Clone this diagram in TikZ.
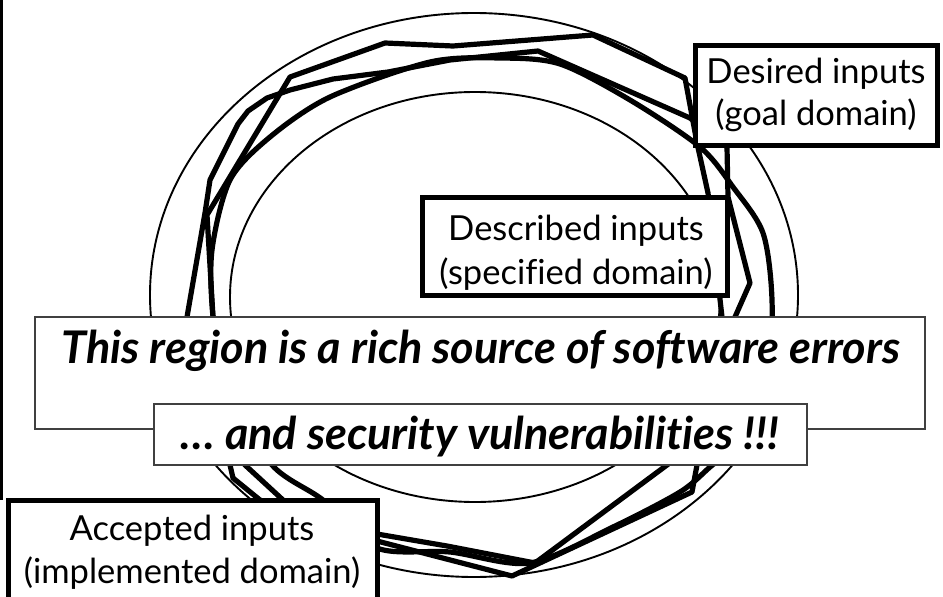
\documentclass[tikz,border=0pt]{standalone}
\usepackage{fontspec}
\setmainfont[Ligatures={NoCommon}]{Lato}
\begin{document}
\begin{tikzpicture}[x=1pt,y=-1pt,
  thinell/.style={line width=1.9pt},
  wavy/.style={line width=5.2pt, line join=round},
  thickbox/.style={draw, line width=5pt, fill=white, inner sep=0pt},
  thinbox/.style={draw=black!75, line width=1.3pt, fill=white, inner sep=0pt},
  lbl/.style={font=\fontsize{34.5}{40}\selectfont, anchor=base, inner sep=0pt},
  bigtxt/.style={font=\fontsize{45}{50}\selectfont\bfseries\itshape, anchor=base, inner sep=0pt}]
\useasboundingbox (0,0) rectangle (943,597);
% page edge line
\draw[line width=3pt] (1.5,0) -- (1.5,500);
% thin ellipses
\draw[thinell] (474,295) ellipse [x radius=324pt, y radius=282pt];
\draw[thinell] (475,297) ellipse [x radius=245pt, y radius=205pt];
% wavy polygon A
\draw[wavy] (593,35) -- (685,78) -- (697,143) -- (708,193) -- (722,317) -- (700,440) -- (667,465)
  -- (535,563) -- (447,546) -- (377,534) -- (300,520) -- (260,500) -- (233,478) -- (230,465)
  -- (215,400) -- (213,317) -- (207,215) -- (290,77) -- (385,43) -- (453,46) -- cycle;
% wavy polygon Q
\draw[wavy] (538,51) -- (690,118) -- (727,147) -- (728,197) -- (750,283) -- (735,317) -- (710,420)
  -- (697,465) -- (692,492) -- (512,576) -- (377,541) -- (310,525) -- (283,500) -- (245,465)
  -- (190,380) -- (187,317) -- (205,213) -- (210,180) -- (238,124) -- (248,111) -- (267,98)
  -- (290,90) -- (333,79) -- (388,72) -- (450,60) -- cycle;
% smooth curve R
\draw[wavy] plot[smooth cycle, tension=0.5] coordinates {(330,97) (430,62) (500,58) (560,64) (630,100)
  (700,147) (733,187) (763,233) (772,300) (768,380) (740,440) (710,467) (680,492) (613,527)
  (530,563) (450,552) (377,548) (323,500) (272,465) (225,390) (213,317) (212,250) (230,180) (270,137)};
% boxes
\node[thinbox, minimum width=890pt, minimum height=112pt] (errbox) at (480,373) {};
\node[bigtxt] (errtxt) at (481,363) {This region is a rich source of software errors};
\node[thinbox, minimum width=653pt, minimum height=61pt] (vulbox) at (480.5,434.5) {};
\node[bigtxt] (vultxt) at (480,449) {… and security vulnerabilities !!!};
\node[thickbox, minimum width=305pt, minimum height=98pt] (descbox) at (574.5,246) {};
\node[lbl] (desc1) at (576,240) {Described inputs};
\node[lbl] (desc2) at (576,284) {(specified domain)};
\node[thickbox, minimum width=242pt, minimum height=100pt] (desbox) at (816,95) {};
\node[lbl] (des1) at (816,83) {Desired inputs};
\node[lbl] (des2) at (816,125) {(goal domain)};
\node[thickbox, minimum width=369pt, minimum height=130pt] (accbox) at (192.5,565) {};
\node[lbl] (acc1) at (192,540) {Accepted inputs};
\node[lbl] (acc2) at (192,583) {(implemented domain)};
\end{tikzpicture}
\end{document}
